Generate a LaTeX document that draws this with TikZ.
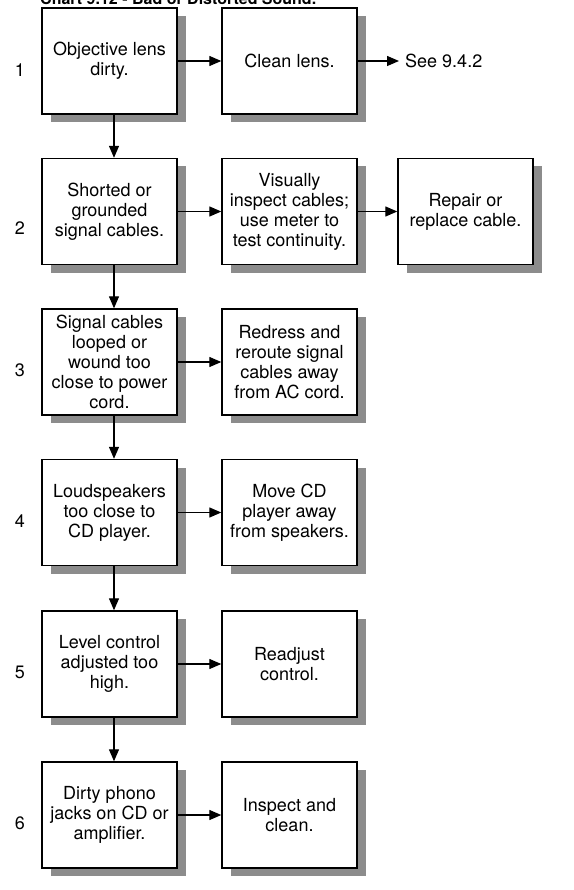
\documentclass[tikz,border=0pt]{standalone}
\usepackage{fontspec}
\setmainfont{TeX Gyre Heros}
\usetikzlibrary{arrows.meta,shadows}

\tikzset{
  box/.style={draw, line width=1.4pt, fill=white, minimum width=135pt, minimum height=106pt,
    align=center, inner sep=2pt, font=\fontsize{18}{20}\selectfont,
    drop shadow={shadow xshift=9pt, shadow yshift=-8pt, fill=black!45, opacity=1}},
  arr/.style={-{Triangle[length=12pt,width=10pt]}, line width=1.3pt},
  lbl/.style={font=\fontsize{18}{20}\selectfont, inner sep=0pt}
}

\begin{document}
\begin{tikzpicture}[x=1pt,y=-1pt]
\useasboundingbox (0,0) rectangle (573,890);

\node[anchor=base west, inner sep=0pt, font=\bfseries\fontsize{16}{18}\selectfont] (title) at (40,5) {Chart 9.12 - Bad or Distorted Sound.};

% causes
\node[box] (cause1) at (109.5,61) {Objective lens\\dirty.};
\node[box] (cause2) at (109.5,211.5) {Shorted or\\grounded\\signal cables.};
\node[box] (cause3) at (109.5,362) {Signal cables\\looped or\\wound too\\close to power\\cord.};
\node[box] (cause4) at (109.5,512.5) {Loudspeakers\\too close to\\CD player.};
\node[box] (cause5) at (109.5,664) {Level control\\adjusted too\\high.};
\node[box] (cause6) at (109.5,815) {Dirty phono\\jacks on CD or\\amplifier.};

% remedies
\node[box] (fix1) at (289.5,61) {Clean lens.};
\node[box] (fix2) at (289.5,211.5) {Visually\\inspect cables;\\use meter to\\test continuity.};
\node[box] (fix3) at (289.5,362) {Redress and\\reroute signal\\cables away\\from AC cord.};
\node[box] (fix4) at (289.5,512.5) {Move CD\\player away\\from speakers.};
\node[box] (fix5) at (289.5,664) {Readjust\\control.};
\node[box] (fix6) at (289.5,815) {Inspect and\\clean.};

\node[box] (repair) at (465.5,211.5) {Repair or\\replace cable.};
\node[lbl, anchor=west, inner xsep=6pt] (see) at (399,61) {See 9.4.2};

\foreach \n/\y in {1/70,2/228,3/370,4/521,5/672,6/823}
   \node[lbl] (num\n) at (20,\y) {\n};

\foreach \i in {1,...,6}
   \draw[arr] (cause\i) -- (fix\i);

\foreach \i/\j in {1/2,2/3,3/4,4/5,5/6}
   \draw[arr] ([xshift=4.5pt]cause\i.south) -- ([xshift=4.5pt]cause\j.north);

\draw[arr] (fix2) -- (repair);
\draw[arr] (fix1) -- (fix1 -| see.west);

\end{tikzpicture}
\end{document}
